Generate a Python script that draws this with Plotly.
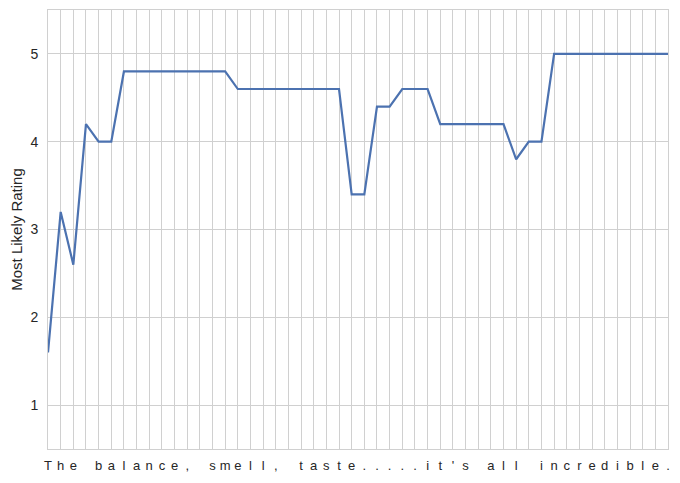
import plotly.graph_objects as go

sentence = "The balance, smell, taste.....it's all incredible."
tick_labels = list(sentence)
positions = list(range(len(tick_labels)))
ratings = [1.6, 3.2, 2.6, 4.2, 4.0, 4.0,
           4.8, 4.8, 4.8, 4.8, 4.8, 4.8, 4.8, 4.8, 4.8,
           4.6, 4.6, 4.6, 4.6, 4.6, 4.6, 4.6, 4.6, 4.6,
           3.4, 3.4, 4.4, 4.4, 4.6, 4.6, 4.6,
           4.2, 4.2, 4.2, 4.2, 4.2, 4.2,
           3.8, 4.0, 4.0,
           5.0, 5.0, 5.0, 5.0, 5.0, 5.0, 5.0, 5.0, 5.0, 5.0]
y_ticks = [1, 2, 3, 4, 5]

fig = go.Figure()
fig.add_trace(go.Scatter(x=positions, y=ratings, mode="lines",
                         line=dict(color="#4c72b0", width=2.2),
                         showlegend=False))

grid = "#d0d0d0"
# page body has an 8px default margin; compensate so the plot lands where the reference has it
fig.update_layout(
    width=672, height=475,
    margin=dict(l=40, r=12, t=2, b=34, autoexpand=False),
    paper_bgcolor="white", plot_bgcolor="white",
    font=dict(family="Liberation Sans, Arial, sans-serif", size=14, color="#262626"),
    xaxis=dict(range=[-0.001, len(tick_labels) - 1 + 0.001], tickmode="array",
               tickvals=positions, ticktext=tick_labels, tickangle=0,
               tickfont=dict(size=13),
               showgrid=True, gridcolor=grid, gridwidth=1,
               showline=True, linecolor=grid, linewidth=1, mirror=True,
               ticks="", zeroline=False, ticklabelstandoff=4, automargin=False),
    yaxis=dict(range=[0.5, 5.5], tickvals=y_ticks,
               tickfont=dict(size=14),
               showgrid=True, gridcolor=grid, gridwidth=1,
               showline=True, linecolor=grid, linewidth=1, mirror=True,
               ticks="", zeroline=False, ticklabelstandoff=6, automargin=False,
               title=dict(text="Most Likely Rating", standoff=10,
                          font=dict(size=15))),
)
fig.write_html("out.html")
